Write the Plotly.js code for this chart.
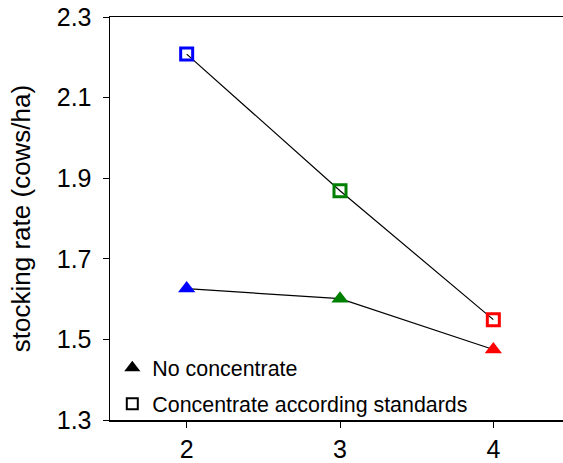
<!DOCTYPE html>
<html>
<head>
<meta charset="utf-8">
<script src="https://cdn.plot.ly/plotly-3.0.1.min.js"></script>
<style>
html,body{margin:0;padding:0;overflow:hidden;background:#fff;}
#chart{width:575px;height:463px;}
</style>
</head>
<body>
<div id="chart"></div>
<script>
// Data
var groups = [2, 3, 4];
var noConcentrate = [1.626, 1.601, 1.475];
var concentrateStandards = [2.208, 1.869, 1.549];
var pointColors = ['#0000FF', '#008000', '#FF0000'];
var seriesNames = ['No concentrate', 'Concentrate according standards'];
var yTicks = [1.3, 1.5, 1.7, 1.9, 2.1, 2.3];
var xTicks = [2, 3, 4];

var FONT = 'Liberation Sans, Arial, sans-serif';

var traces = [
  {
    x: groups, y: concentrateStandards, type: 'scatter', mode: 'lines+markers',
    line: {color: '#000', width: 1.2},
    marker: {symbol: 'square-open', size: 12, color: pointColors, line: {width: 3, color: pointColors}},
    showlegend: false, hoverinfo: 'x+y'
  },
  {
    x: groups, y: noConcentrate, type: 'scatter', mode: 'lines+markers',
    line: {color: '#000', width: 1.2},
    marker: {symbol: 'triangle-up', size: 15, color: pointColors},
    showlegend: false, hoverinfo: 'x+y'
  },
  {
    x: [null], y: [null], type: 'scatter', mode: 'markers', name: seriesNames[0],
    legendgroup: 'a',
    marker: {symbol: 'triangle-up', size: 14, color: '#000'}
  },
  {
    x: [null], y: [null], type: 'scatter', mode: 'markers', name: seriesNames[1],
    legendgroup: 'b',
    marker: {symbol: 'square-open', size: 11, color: '#000', line: {width: 2, color: '#000'}}
  }
];

var layout = {
  width: 575, height: 463,
  margin: {l: 110, r: 5, t: 17, b: 43},
  paper_bgcolor: '#fff', plot_bgcolor: '#fff',
  font: {family: FONT, color: '#000'},
  xaxis: {
    range: [1.5, 4.5], tickvals: xTicks, ticktext: xTicks.map(String),
    showgrid: false, zeroline: false, showline: true, linecolor: '#000', linewidth: 1.5,
    mirror: true, ticks: 'outside', ticklen: 6, tickcolor: '#000', tickwidth: 1,
    tickfont: {size: 25, family: FONT}, ticklabelstandoff: 0
  },
  yaxis: {
    range: [1.3, 2.3], tickvals: yTicks, ticktext: yTicks.map(function(v){return v.toFixed(1);}),
    showgrid: false, zeroline: false, showline: true, linecolor: '#000', linewidth: 1.5,
    mirror: true, ticks: 'outside', ticklen: 6, tickcolor: '#000', tickwidth: 1,
    tickfont: {size: 25, family: FONT}, ticklabelstandoff: 6,
    title: {text: 'stocking rate (cows/ha)', font: {size: 26, family: FONT}, standoff: 18}
  },
  legend: {
    x: 0.005, y: 0.18, xanchor: 'left', yanchor: 'top',
    bgcolor: 'rgba(0,0,0,0)', borderwidth: 0,
    font: {size: 21.4, family: FONT, color: '#000'},
    traceorder: 'grouped', tracegroupgap: 5
  },
  showlegend: true
};

Plotly.newPlot('chart', traces, layout, {displayModeBar: false, staticPlot: true});
</script>
</body>
</html>
